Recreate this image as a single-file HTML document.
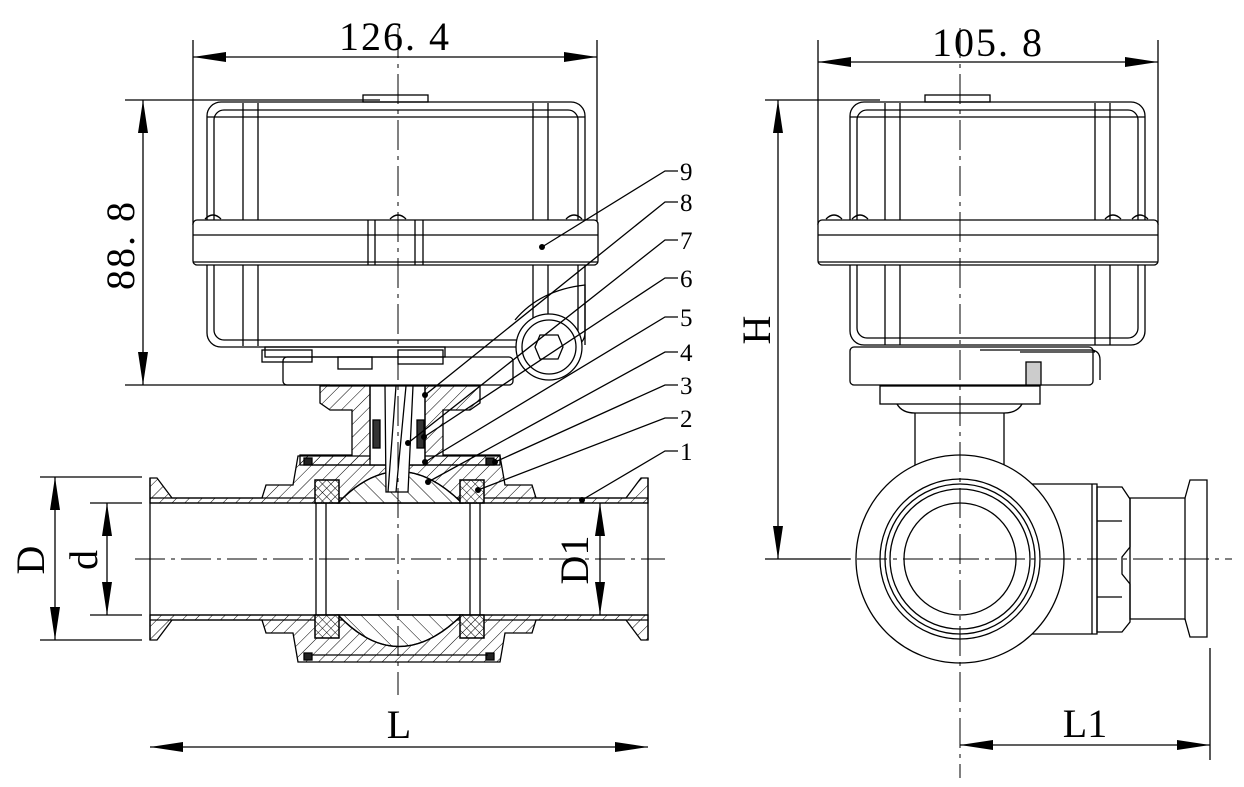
<!DOCTYPE html>
<html><head><meta charset="utf-8"><style>
html,body{margin:0;padding:0;background:#fff;}
svg{display:block;}
text{font-family:"Liberation Serif","Noto Serif CJK SC",serif;fill:#000;}
</style></head><body>
<svg width="1244" height="787" viewBox="0 0 1244 787" xmlns="http://www.w3.org/2000/svg">
<defs>
<pattern id="h" width="9" height="9" patternUnits="userSpaceOnUse" patternTransform="rotate(45)"><line x1="0" y1="0" x2="0" y2="9" stroke="#000" stroke-width="1"/></pattern>
<pattern id="h2" width="12" height="12" patternUnits="userSpaceOnUse" patternTransform="rotate(-45)"><line x1="0" y1="0" x2="0" y2="12" stroke="#000" stroke-width="1"/></pattern>
<pattern id="x" width="6" height="6" patternUnits="userSpaceOnUse" patternTransform="rotate(45)"><path d="M0 0V6M0 0H6" stroke="#000" stroke-width="1"/></pattern>
</defs>
<g fill="none" stroke="#000" stroke-width="1.3">
<line x1="193" y1="40" x2="193" y2="225"/><line x1="597" y1="40" x2="597" y2="225"/>
<line x1="193" y1="57" x2="597" y2="57"/>
<line x1="125" y1="100" x2="380" y2="100"/><line x1="125" y1="385" x2="330" y2="385"/>
<line x1="143" y1="100" x2="143" y2="385"/>
<rect x="207" y="102" width="378" height="245" rx="14"/>
<rect x="214" y="110" width="364" height="230" rx="10"/>
<line x1="207" y1="117" x2="585" y2="117"/>
<line x1="243" y1="103" x2="243" y2="346"/><line x1="258" y1="103" x2="258" y2="346"/>
<line x1="533" y1="103" x2="533" y2="346"/><line x1="548" y1="103" x2="548" y2="346"/>
<rect x="193" y="220" width="405" height="45" rx="4" fill="#fff"/>
<line x1="193" y1="235" x2="598" y2="235"/><line x1="193" y1="262" x2="598" y2="262"/>
<line x1="368" y1="220" x2="368" y2="265"/><line x1="375" y1="220" x2="375" y2="265"/>
<line x1="415" y1="220" x2="415" y2="265"/><line x1="423" y1="220" x2="423" y2="265"/>
<path d="M205 219q8-8 16 0M390 219q8-8 16 0M566 219q8-8 16 0"/>
<path d="M515 320q25-30 70-35v60"/>
<circle cx="549" cy="347" r="33" fill="#fff"/><circle cx="549" cy="347" r="27"/>
<path d="M540 335h18l5 12-5 12h-18l-5-12z"/>
<rect x="363" y="95" width="65" height="7"/>
<rect x="265" y="347" width="180" height="10"/>
<rect x="283" y="357" width="230" height="28" rx="4"/>
<rect x="262" y="350" width="50" height="12"/><rect x="338" y="357" width="34" height="12"/><rect x="398" y="350" width="45" height="14"/>
<path d="M150 478H157L172 498H262L266 485H293L298 456H500L505 485H532L536 498H626L641 478H648V503H150Z" fill="url(#h)"/>
<path d="M150 640H157L172 620H262L266 633H293L298 662H500L505 633H532L536 620H626L641 640H648V615H150Z" fill="url(#h)"/>
<line x1="150" y1="498" x2="648" y2="498"/><line x1="150" y1="620" x2="648" y2="620"/>
<path d="M320 386H480V403L470 410H443V455H500V465H300V455H352V410H330L320 403Z" fill="url(#h)"/>
<rect x="370" y="386" width="55" height="79" fill="#fff"/>
<rect x="304" y="458" width="8" height="7" fill="#222"/><rect x="486" y="458" width="8" height="7" fill="#222"/>
<rect x="304" y="653" width="8" height="7" fill="#222"/><rect x="486" y="653" width="8" height="7" fill="#222"/>
<path d="M338 503Q398 440 462 503Z" fill="#fff"/>
<path d="M338 503Q398 440 462 503Z" fill="url(#h2)"/>
<path d="M338 615Q398 678 462 615Z" fill="#fff"/>
<path d="M338 615Q398 678 462 615Z" fill="url(#h2)"/>
<line x1="312" y1="465" x2="488" y2="465"/><line x1="312" y1="655" x2="488" y2="655"/>
<path d="M385 386H413L408 492H386Z" fill="#fff"/>
<path d="M396 386l-8 106M406 386l-10 106"/>
<line x1="370" y1="386" x2="370" y2="460"/><line x1="425" y1="386" x2="425" y2="460"/>
<rect x="373" y="420" width="7" height="28" fill="#333"/><rect x="417" y="420" width="7" height="28" fill="#333"/>
<rect x="315" y="480" width="24" height="23" fill="#fff"/><rect x="460" y="480" width="24" height="23" fill="#fff"/>
<rect x="315" y="615" width="24" height="23" fill="#fff"/><rect x="460" y="615" width="24" height="23" fill="#fff"/>
<rect x="315" y="480" width="24" height="23" fill="url(#x)"/><rect x="460" y="480" width="24" height="23" fill="url(#x)"/>
<rect x="315" y="615" width="24" height="23" fill="url(#x)"/><rect x="460" y="615" width="24" height="23" fill="url(#x)"/>
<line x1="316" y1="503" x2="316" y2="615"/><line x1="326" y1="503" x2="326" y2="615"/>
<line x1="470" y1="503" x2="470" y2="615"/><line x1="480" y1="503" x2="480" y2="615"/>
<line x1="150" y1="503" x2="648" y2="503"/><line x1="150" y1="615" x2="648" y2="615"/>
<line x1="150" y1="478" x2="150" y2="640"/><line x1="648" y1="478" x2="648" y2="640"/>
<line x1="135" y1="559" x2="665" y2="559" stroke-dasharray="30,6,4,6" stroke-width="1"/>
<line x1="398" y1="28" x2="398" y2="695" stroke-dasharray="30,6,4,6" stroke-width="1"/>
<line x1="40" y1="477" x2="142" y2="477"/><line x1="40" y1="640" x2="142" y2="640"/>
<line x1="90" y1="503" x2="142" y2="503"/><line x1="90" y1="615" x2="142" y2="615"/>
<line x1="55" y1="477" x2="55" y2="640"/><line x1="107" y1="503" x2="107" y2="615"/>
<line x1="600" y1="503" x2="600" y2="615"/>
<line x1="150" y1="747" x2="648" y2="747"/>
<path d="M678 171h-13L542 247M678 202h-13L425 395M678 240h-13L408 443M678 278h-13L424 437M678 317h-13L425 462M678 352h-13L428 482M678 385h-13L495 462M678 418h-13L478 490M678 451h-13L582 500"/>

<line x1="818" y1="40" x2="818" y2="225"/><line x1="1158" y1="40" x2="1158" y2="225"/>
<line x1="818" y1="62" x2="1158" y2="62"/>
<line x1="765" y1="100" x2="880" y2="100"/><line x1="765" y1="559" x2="850" y2="559"/>
<line x1="778" y1="100" x2="778" y2="559"/>
<rect x="850" y="102" width="295" height="243" rx="14"/>
<rect x="857" y="110" width="281" height="228" rx="10"/>
<line x1="850" y1="117" x2="1145" y2="117"/>
<line x1="885" y1="103" x2="885" y2="345"/><line x1="900" y1="103" x2="900" y2="345"/>
<line x1="1095" y1="103" x2="1095" y2="345"/><line x1="1110" y1="103" x2="1110" y2="345"/>
<rect x="818" y="220" width="340" height="45" rx="4" fill="#fff"/>
<line x1="818" y1="235" x2="1158" y2="235"/><line x1="818" y1="262" x2="1158" y2="262"/>
<path d="M826 219q8-8 16 0M852 219q8-8 16 0M1105 219q8-8 16 0M1132 219q8-8 16 0"/>
<rect x="925" y="95" width="65" height="7"/>
<rect x="850" y="347" width="243" height="38" rx="4"/>
<path d="M980 350h110q10 0 10 10v20M1020 352h75"/>
<rect x="1026" y="362" width="15" height="23" fill="#ccc"/>
<rect x="880" y="386" width="160" height="18"/>
<path d="M897 404q5 9 18 9h89q13 0 18-9"/>
<line x1="915" y1="413" x2="915" y2="466"/><line x1="1004" y1="413" x2="1004" y2="465"/>
<circle cx="960" cy="559" r="104" fill="#fff"/>
<circle cx="960" cy="559" r="80"/><circle cx="960" cy="559" r="75"/><circle cx="960" cy="559" r="70"/><circle cx="960" cy="559" r="56"/>
<path d="M1032 484h65v150h-65"/>
<line x1="1092" y1="484" x2="1092" y2="634"/>
<path d="M1097 487h25l8 12v48l-8 10v17l8 10v38l-8 10h-25z"/>
<line x1="1097" y1="521" x2="1122" y2="521"/><line x1="1097" y1="597" x2="1122" y2="597"/>
<path d="M1130 498h55l5-18h17v157h-17l-5-18h-55z"/>
<line x1="1185" y1="498" x2="1185" y2="620"/>
<line x1="960" y1="28" x2="960" y2="778" stroke-dasharray="30,6,4,6" stroke-width="1"/>
<line x1="765" y1="559" x2="1232" y2="559" stroke-dasharray="30,6,4,6" stroke-width="1"/>
<line x1="1210" y1="648" x2="1210" y2="760"/>
<line x1="960" y1="745" x2="1210" y2="745"/>
</g>
<g fill="#000">
<path d="M193 57l33-5v10zM597 57l-33-5v10z"/>
<path d="M143 100l-5 33h10zM143 385l-5-33h10z"/>
<path d="M55 477l-5 33h10zM55 640l-5-33h10zM107 503l-5 33h10zM107 615l-5-33h10z"/>
<path d="M600 503l-5 33h10zM600 615l-5-33h10z"/>
<path d="M150 747l33-5v10zM648 747l-33-5v10z"/>
<path d="M818 62l33-5v10zM1158 62l-33-5v10z"/>
<path d="M778 100l-5 33h10zM778 559l-5-33h10z"/>
<path d="M960 745l33-5v10zM1210 745l-33-5v10z"/>
<circle cx="542" cy="247" r="3"/><circle cx="425" cy="395" r="3"/><circle cx="408" cy="443" r="3"/><circle cx="424" cy="437" r="3"/><circle cx="425" cy="462" r="3"/><circle cx="428" cy="482" r="3"/><circle cx="495" cy="462" r="3"/><circle cx="478" cy="490" r="3"/><circle cx="582" cy="500" r="3"/>
</g>
<text x="395" y="50" font-size="40" text-anchor="middle" letter-spacing="2">126. 4</text>
<text x="988" y="56" font-size="40" text-anchor="middle" letter-spacing="2">105. 8</text>
<text transform="translate(134,245) rotate(-90)" font-size="40" text-anchor="middle" letter-spacing="2">88. 8</text>
<text transform="translate(770,330) rotate(-90)" font-size="40" text-anchor="middle">H</text>
<text transform="translate(44,560) rotate(-90)" font-size="40" text-anchor="middle">D</text>
<text transform="translate(97,560) rotate(-90)" font-size="40" text-anchor="middle">d</text>
<text transform="translate(588,560) rotate(-90)" font-size="40" text-anchor="middle">D1</text>
<text x="399" y="738" font-size="40" text-anchor="middle">L</text>
<text x="1085" y="737" font-size="40" text-anchor="middle">L1</text>
<g font-size="25">
<text x="680" y="180">9</text><text x="680" y="211">8</text><text x="680" y="249">7</text><text x="680" y="287">6</text><text x="680" y="326">5</text><text x="680" y="361">4</text><text x="680" y="394">3</text><text x="680" y="427">2</text><text x="680" y="460">1</text>
</g>
</svg>
</body></html>
